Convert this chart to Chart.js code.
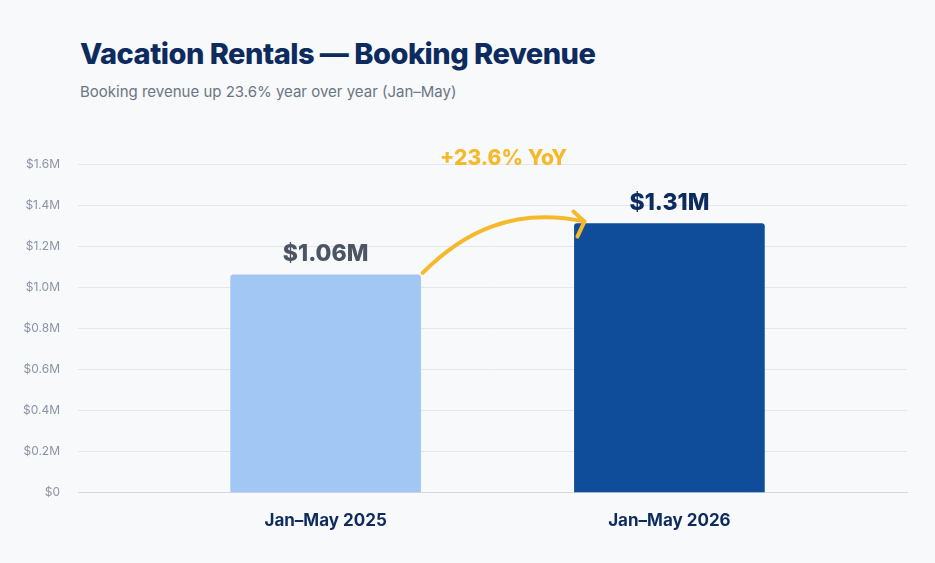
<!DOCTYPE html>
<html><head><meta charset="utf-8">
<script src="https://cdn.jsdelivr.net/npm/chart.js@4"></script>
<style>
body{margin:0;background:#f8f9fb;font-family:Inter,"Noto Sans",sans-serif;}
#wrap{position:relative;width:935px;height:563px;}
h1{position:absolute;left:80px;top:36px;margin:0;font-size:29px;font-weight:800;color:#0d2b5e;letter-spacing:-0.5px}
p{position:absolute;left:80px;top:82px;margin:0;font-size:15px;color:#6b7584}
canvas{position:absolute;left:0;top:0}
</style></head><body>
<div id="wrap">
<h1>Vacation Rentals — Booking Revenue</h1>
<p>Booking revenue up 23.6% year over year (Jan–May)</p>
<canvas id="c" width="935" height="563"></canvas>
</div>
<script>
const periods = ['Jan–May 2025','Jan–May 2026'];
const revenue = [1.06, 1.31];   // $M
const xPos = [29.87, 71.34];
const colors = ['#a3c7f5','#0f4c9a'];
const labelColors = ['#4b5563','#0d2b5e'];

const overlay = {
  id:'overlay',
  afterDatasetsDraw(chart){
    const {ctx, scales:{x,y}} = chart;
    ctx.save();
    ctx.font = '800 23px Inter, sans-serif';
    ctx.textAlign = 'center';
    revenue.forEach((v,i)=>{
      ctx.fillStyle = labelColors[i];
      ctx.fillText('$'+v.toFixed(2)+'M', x.getPixelForValue(xPos[i]), y.getPixelForValue(v)-14);
    });
    // arrow from bar 1 edge to bar 2 edge
    const x0 = x.getPixelForValue(xPos[0]) + 97, y0 = y.getPixelForValue(revenue[0]) - 2;
    const x1 = x.getPixelForValue(xPos[1]) - 85, y1 = y.getPixelForValue(revenue[1]) - 2;
    ctx.strokeStyle = '#f6b92b'; ctx.lineWidth = 4; ctx.lineCap='round'; ctx.lineJoin='round';
    ctx.beginPath(); ctx.moveTo(x0,y0);
    ctx.bezierCurveTo(x0+40,y0-40, x0+90,y1-15, x1,y1);
    ctx.stroke();
    ctx.beginPath(); ctx.moveTo(x1-11,y1-10); ctx.lineTo(x1,y1); ctx.lineTo(x1-7,y1+15); ctx.stroke();
    ctx.fillStyle = '#f6b92b'; ctx.font = '800 21px Inter, sans-serif';
    ctx.fillText('+23.6% YoY', (x0+x1)/2, 165);
    ctx.restore();
  }
};

new Chart(document.getElementById('c'), {
  type:'bar',
  data:{ datasets:[{ data: revenue.map((v,i)=>({x:xPos[i], y:v})), backgroundColor: colors,
    barThickness:190, borderRadius:{topLeft:3,topRight:3}, borderSkipped:'bottom' }] },
  options:{
    responsive:false, animation:false,
    layout:{ padding:{ top:164, left:5, right:28, bottom:22 } },
    plugins:{ legend:{display:false}, tooltip:{enabled:false} },
    scales:{
      x:{ type:'linear', min:0, max:100, offset:false,
        afterBuildTicks: a => { a.ticks = xPos.map(v=>({value:v})); },
        ticks:{ callback:(v,i)=>periods[i], color:'#0d2b5e', font:{size:17, weight:'bold', family:'Inter'}, padding:10 },
        grid:{ display:false }, border:{ color:'#d5d9df' } },
      y:{ min:0, max:1.6,
        ticks:{ stepSize:0.2, callback:v=> v===0 ? '$0' : '$'+v.toFixed(1)+'M', color:'#8a94a6', font:{size:12, family:'Inter'}, padding:18 },
        grid:{ color:'#e4e7eb', drawTicks:false }, border:{ display:false } }
    }
  },
  plugins:[overlay]
});
</script>
</body></html>
